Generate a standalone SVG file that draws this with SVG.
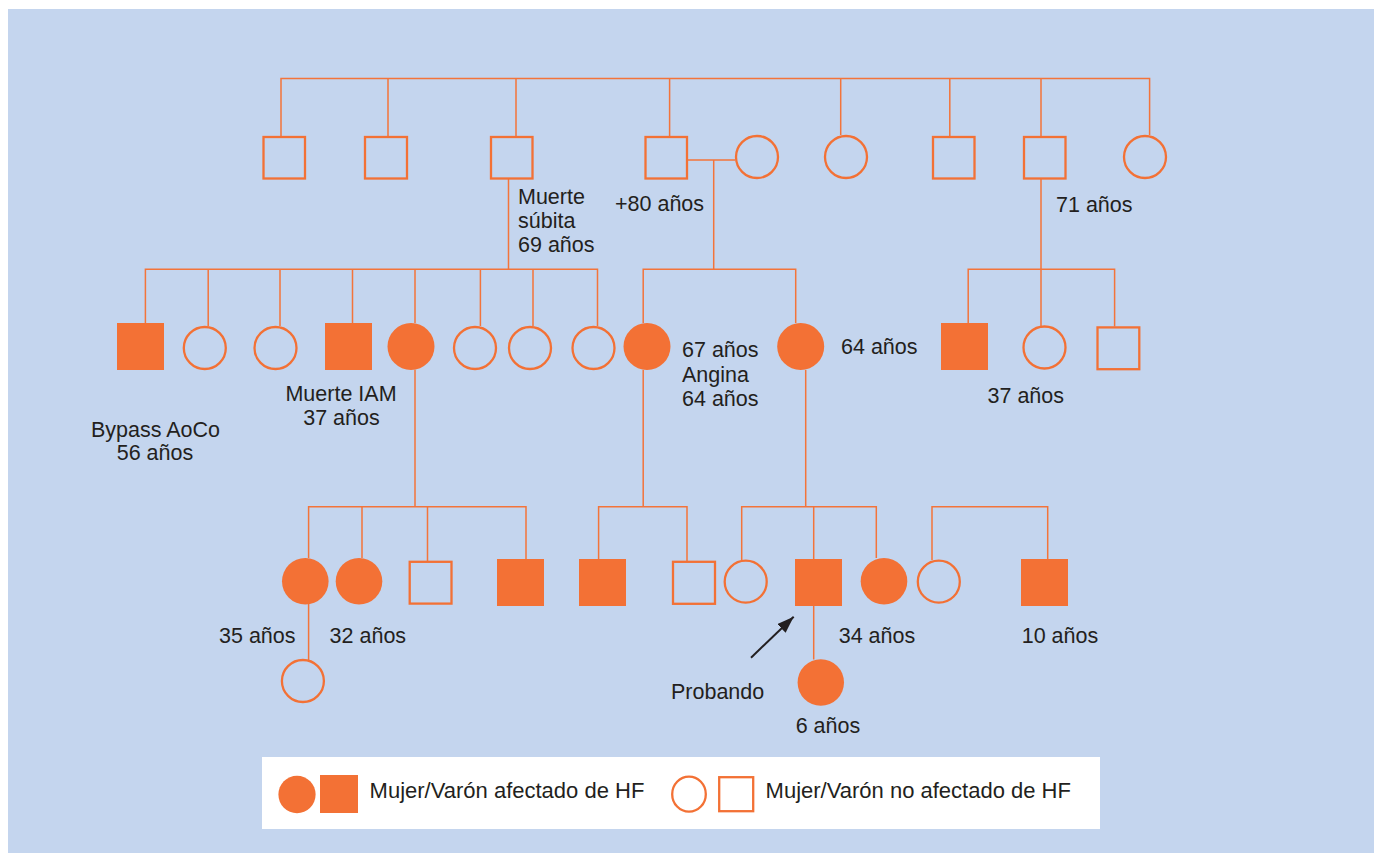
<svg xmlns="http://www.w3.org/2000/svg" width="1374" height="853" viewBox="0 0 1374 853">
<defs>
<style>
.ln{stroke:#F3743A;stroke-width:1.5;fill:none}
.o{fill:none;stroke:#F37135;stroke-width:2.3}
.f{fill:#F37135;stroke:none}
.t{font-family:"Liberation Sans",Arial,sans-serif;font-size:21.5px;fill:#231F20}
.m{text-anchor:middle}
.lg{font-size:22px}
</style>
<marker id="ah" viewBox="0 0 17 12" refX="17" refY="6" markerWidth="17" markerHeight="12" markerUnits="userSpaceOnUse" orient="auto">
<path d="M0,0 L17,6 L0,12 z" fill="#231F20"/>
</marker>
</defs>
<rect x="0" y="0" width="1374" height="853" fill="#FFFFFF"/>
<rect x="8" y="9" width="1366" height="844" fill="#C4D5EE"/>

<g id="connectors">
<path class="ln" d="M281,136 V78.5 H1149.6 V135 M388,78.5 V136 M516,78.5 V136 M669.6,78.5 V136 M840.7,78.5 V135 M949.8,78.5 V136 M1041,78.5 V136"/>
<path class="ln" d="M688,160 H735 M713.7,160 V269.3"/>
<path class="ln" d="M508.5,179 V269.3 M145.4,323 V269.3 H597.5 V326 M208.2,269.3 V326 M280,269.3 V326 M352.5,269.3 V323 M415,269.3 V323 M480.4,269.3 V326 M533,269.3 V326"/>
<path class="ln" d="M643.2,323 V269.3 H795.7 V323"/>
<path class="ln" d="M1041,179 V328 M968.2,323 V269.3 H1114.6 V326.5"/>
<path class="ln" d="M415,369.7 V506.7 M643.2,370 V506.7 M805.7,370 V506.7"/>
<path class="ln" d="M308.6,558 V506.7 H526 V559 M362,506.7 V558 M427.5,506.7 V562"/>
<path class="ln" d="M598.6,559 V506.7 H687 V562"/>
<path class="ln" d="M741.7,560 V506.7 H876.3 V558 M813.7,506.7 V559"/>
<path class="ln" d="M932,560 V506.7 H1047.7 V559"/>
<path class="ln" d="M308.6,604 V660 M813.7,606 V659.5"/>
<line x1="751" y1="657.7" x2="793.7" y2="616.7" stroke="#231F20" stroke-width="2" marker-end="url(#ah)"/>
</g>

<g id="n_I1"><rect class="o" x="263.5" y="137" width="41.5" height="41.5"/></g>
<g id="n_I2"><rect class="o" x="365" y="137" width="42" height="41.5"/></g>
<g id="n_I3"><rect class="o" x="491" y="137" width="41.5" height="41.5"/>
<text class="t" x="518" y="204">Muerte</text><text class="t" x="518" y="228">súbita</text><text class="t" x="518" y="252">69 años</text></g>
<g id="n_I4"><rect class="o" x="645.5" y="137" width="41.5" height="41.5"/>
<text class="t" x="615" y="211">+80 años</text></g>
<g id="n_I5"><circle class="o" cx="757" cy="157" r="21"/></g>
<g id="n_I6"><circle class="o" cx="846" cy="157" r="21"/></g>
<g id="n_I7"><rect class="o" x="933" y="137" width="41.5" height="41.5"/></g>
<g id="n_I8"><rect class="o" x="1024" y="137" width="41.5" height="41.5"/>
<text class="t" x="1056" y="212">71 años</text></g>
<g id="n_I9"><circle class="o" cx="1145" cy="157" r="21"/></g>

<g id="n_II1"><rect class="f" x="117" y="323" width="47" height="47"/>
<text class="t m" x="155.5" y="437">Bypass AoCo</text><text class="t m" x="155" y="460">56 años</text></g>
<g id="n_II2"><circle class="o" cx="204.8" cy="348" r="21"/></g>
<g id="n_II3"><circle class="o" cx="275.5" cy="348" r="21"/></g>
<g id="n_II4"><rect class="f" x="325" y="323" width="47" height="47"/>
<text class="t m" x="341" y="401">Muerte IAM</text><text class="t m" x="341.5" y="424.5">37 años</text></g>
<g id="n_II5"><circle class="f" cx="411" cy="346.5" r="23.5"/></g>
<g id="n_II6"><circle class="o" cx="475" cy="348" r="21"/></g>
<g id="n_II7"><circle class="o" cx="530" cy="348" r="21"/></g>
<g id="n_II8"><circle class="o" cx="593.5" cy="348" r="21"/></g>
<g id="n_II9"><circle class="f" cx="647" cy="346.5" r="23.5"/>
<text class="t" x="682" y="357">67 años</text><text class="t" x="682" y="381.5">Angina</text><text class="t" x="682" y="405.5">64 años</text></g>
<g id="n_II10"><circle class="f" cx="800.7" cy="346.5" r="23.5"/>
<text class="t" x="841" y="354">64 años</text></g>
<g id="n_II11"><rect class="f" x="941" y="323" width="47" height="47"/></g>
<g id="n_II12"><circle class="o" cx="1044.5" cy="347.5" r="21"/>
<text class="t" x="987.5" y="403">37 años</text></g>
<g id="n_II13"><rect class="o" x="1097.5" y="327.4" width="41.8" height="41.8"/></g>

<g id="n_III1"><circle class="f" cx="305.3" cy="581.3" r="23.3"/>
<text class="t" x="219" y="643">35 años</text></g>
<g id="n_III2"><circle class="f" cx="359" cy="581.3" r="23.3"/>
<text class="t" x="329.6" y="643">32 años</text></g>
<g id="n_III3"><rect class="o" x="409.7" y="561.8" width="41.8" height="41.8"/></g>
<g id="n_III4"><rect class="f" x="497" y="559" width="47" height="47"/></g>
<g id="n_III5"><rect class="f" x="579" y="559" width="47" height="47"/></g>
<g id="n_III6"><rect class="o" x="673" y="561.8" width="42" height="42"/></g>
<g id="n_III7"><circle class="o" cx="745.7" cy="581.7" r="21"/></g>
<g id="n_III8"><rect class="f" x="795" y="559" width="47" height="47"/>
<text class="t" x="671" y="698.5">Probando</text></g>
<g id="n_III9"><circle class="f" cx="884" cy="581.2" r="23.3"/>
<text class="t" x="838.7" y="643">34 años</text></g>
<g id="n_III10"><circle class="o" cx="938.8" cy="581.7" r="21"/></g>
<g id="n_III11"><rect class="f" x="1021" y="559" width="47" height="47"/>
<text class="t" x="1021.7" y="643">10 años</text></g>

<g id="n_IV1"><circle class="o" cx="302.9" cy="681" r="21"/></g>
<g id="n_IV2"><circle class="f" cx="820.8" cy="682.5" r="23.2"/>
<text class="t" x="795.7" y="733">6 años</text></g>

<g id="legend">
<rect x="262" y="757" width="838" height="72" fill="#FFFFFF"/>
<ellipse class="f" cx="297" cy="794.5" rx="18.6" ry="18.8"/>
<rect class="f" x="320" y="775" width="38" height="38"/>
<text class="t lg" x="369.6" y="798">Mujer/Varón afectado de HF</text>
<ellipse class="o" cx="689" cy="794.2" rx="16.8" ry="17.5"/>
<rect class="o" x="719.2" y="777.2" width="34" height="34"/>
<text class="t lg" x="765.6" y="798">Mujer/Varón no afectado de HF</text>
</g>
</svg>
